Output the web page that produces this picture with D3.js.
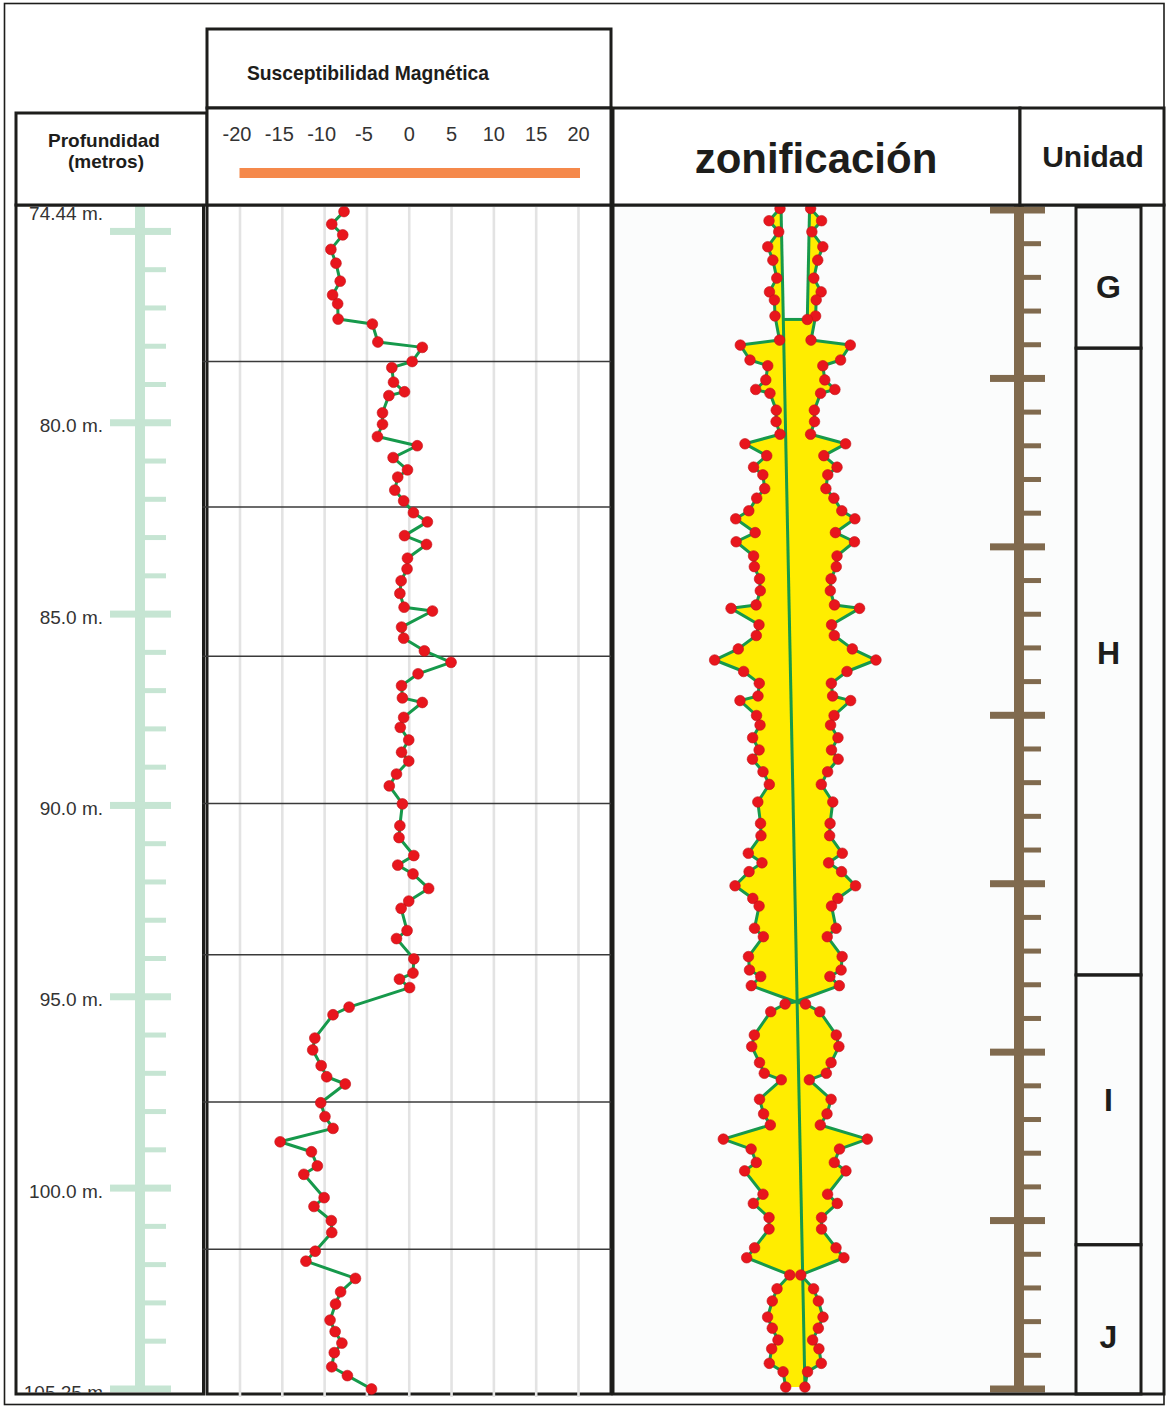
<!DOCTYPE html>
<html>
<head>
<meta charset="utf-8">
<script src="https://cdn.jsdelivr.net/npm/d3@7"></script>
<style>
  html, body { margin: 0; padding: 0; background: #fff; }
  svg { display: block; font-family: "Liberation Sans", Arial, Helvetica, sans-serif; }
</style>
</head>
<body>
<svg id="chart" width="1167" height="1409"></svg>
<script>
// ---- magnetic susceptibility log ----
const suscDepth = [
  74.48, 74.81, 75.09, 75.47, 75.83, 76.30, 76.66, 76.89, 77.29, 77.42,
  77.89, 78.03, 78.40, 78.56, 78.94, 79.19, 79.29, 79.74, 80.04, 80.36,
  80.60, 80.91, 81.23, 81.42, 81.76, 82.04, 82.35, 82.59, 82.95, 83.18,
  83.54, 83.82, 84.13, 84.46, 84.82, 84.92, 85.34, 85.63, 85.96, 86.26,
  86.56, 86.87, 87.19, 87.31, 87.70, 87.96, 88.29, 88.61, 88.84, 89.18,
  89.49, 89.96, 90.53, 90.84, 91.31, 91.56, 91.79, 92.17, 92.50, 92.69,
  93.27, 93.48, 94.01, 94.38, 94.54, 94.76, 95.27, 95.47, 96.08, 96.39,
  96.80, 97.09, 97.28, 97.77, 98.13, 98.44, 98.79, 99.05, 99.42, 99.64,
  100.25, 100.48, 100.85, 101.16, 101.65, 101.91, 102.36, 102.71, 103.03, 103.45,
  103.75, 104.05, 104.30, 104.67, 104.90, 105.25
];
const suscValue = [
  -7.65, -9.1, -7.8, -9.2, -8.6, -8.1, -9.0, -8.4, -8.35, -4.3,
  -3.65, 1.6, 0.4, -2.0, -1.8, -0.5, -2.35, -3.1, -3.1, -3.7,
  1.0, -1.85, -0.15, -1.3, -1.65, -0.6, 0.55, 2.2, -0.5, 2.1,
  -0.15, -0.2, -0.9, -1.05, -0.55, 2.8, -0.85, -0.6, 1.85, 5.0,
  1.1, -0.85, -0.75, 1.6, -0.6, -1.0, 0, -0.85, 0, -1.45,
  -2.3, -0.75, -1.05, -1.15, 0.6, -1.3, 0.5, 2.35, 0, -0.9,
  -0.2, -1.45, 0.6, 0.5, -1.1, 0.1, -7.05, -8.95, -11.1, -11.35,
  -10.35, -9.7, -7.5, -10.4, -9.9, -8.95, -15.2, -11.5, -10.8, -12.4,
  -10.0, -11.2, -9.15, -9.1, -11.05, -12.15, -6.3, -8.05, -8.65, -9.3,
  -8.7, -7.9, -8.8, -9.1, -7.25, -4.4
];
const suscTicks = [-20, -15, -10, -5, 0, 5, 10, 15, 20];
const sectionDepths = [78.4, 82.2, 86.1, 89.95, 93.9, 97.75, 101.6];

// ---- depth ruler ----
const depthTop = 74.44, depthBottom = 105.25;
const depthMajor = [75, 80, 85, 90, 95, 100, 105.25];
const depthMinor = [76, 77, 78, 79, 81, 82, 83, 84, 86, 87, 88, 89, 91, 92, 93, 94, 96, 97, 98, 99, 101, 102, 103, 104];
const depthLabelDepth = [74.44, 80, 85, 90, 95, 100, 105.25];
const depthLabelText = ["74.44 m.", "80.0 m.", "85.0 m.", "90.0 m.", "95.0 m.", "100.0 m.", "105.25 m"];

// ---- zonation profile (depth, half width) ----
const zoneDepth = [
  74.40, 74.72, 75.01, 75.40, 75.75, 76.22, 76.58, 76.79, 77.21,
  77.84, 77.97, 78.36, 78.51, 78.88, 79.13, 79.23, 79.67, 79.97, 80.30,
  80.55, 80.86, 81.16, 81.36, 81.72, 81.97, 82.30, 82.51, 82.87, 83.11,
  83.48, 83.76, 84.08, 84.39, 84.76, 84.85, 85.28, 85.56, 85.91, 86.20,
  86.50, 86.81, 87.14, 87.26, 87.65, 87.90, 88.23, 88.55, 88.79, 89.12,
  89.45, 89.91, 90.47, 90.79, 91.25, 91.50, 91.73, 92.10, 92.43, 92.63,
  93.21, 93.43, 93.95, 94.30, 94.47, 94.71, 95.13,
  95.19, 95.39, 96.00, 96.30, 96.72, 97.00, 97.17, 97.68, 98.06, 98.35,
  98.72, 98.98, 99.33, 99.55, 100.16, 100.40, 100.77, 101.07, 101.56, 101.82, 102.27,
  102.63, 102.95, 103.37, 103.66, 103.97, 104.20, 104.58, 104.80, 105.20
];
const zoneHalf = [
  1.8, 3.09, 1.95, 3.24, 2.64, 2.18, 3.04, 2.46, 2.39,
  1.85, 6.47, 5.33, 3.24, 3.47, 4.66, 2.98, 2.24, 2.26, 1.8,
  5.92, 3.36, 4.91, 3.82, 3.6, 4.54, 5.47, 7.01, 4.72, 6.96,
  4.91, 4.82, 4.21, 4.12, 4.61, 7.56, 4.27, 4.59, 6.71, 9.49,
  6.08, 4.24, 4.39, 6.51, 4.56, 4.15, 5.02, 4.26, 5.04, 3.8,
  3.06, 4.41, 4.09, 4.04, 5.53, 3.92, 5.44, 7.09, 5.0, 4.26,
  4.8, 3.76, 5.51, 5.39, 4.07, 5.18, 0,
  1.2, 2.89, 4.82, 5.13, 4.21, 3.65, 1.65, 4.21, 3.73, 2.94,
  8.47, 5.2, 4.59, 5.96, 3.8, 4.94, 3.09, 3.09, 4.79, 5.72, 0.65,
  2.15, 2.71, 3.26, 2.71, 2.04, 2.78, 3.06, 1.44, 1.13
];
// axis of the zonation column, slightly inclined; hollow core in unit G
const axisDepth = [74.36, 105.27];
const axisOffset = [-1.68, 1.14];
const hollowBottom = 77.30;

// ---- units ----
const unitNames = ["G", "H", "I", "J"];
const unitTop = [74.36, 78.05, 94.43, 101.48];
const unitBottom = [78.05, 94.43, 101.48, 105.38];
const unitLabelDepth = [76.45, 86.02, 97.70, 103.89];
const rulerDivisions = 35;

// ---- layout ----
const INK = "#1d1d1b", GREEN = "#16994b", RED = "#e8161d", YELLOW = "#ffed00";
const RULER_GREEN = "#c6e5d3", RULER_BROWN = "#806a4e", ORANGE = "#f5894b";
const PANEL_BG = "#fbfcfc";
const bodyTop = 205, bodyBottom = 1394;
const depthCol = { x0: 16, x1: 203.5 };
const suscCol = { x0: 207, x1: 611 };
const rightCol = { x0: 613, x1: 1164 };
const unitBox = { x0: 1076, x1: 1141 };

const svg = d3.select("#chart");
const y = d3.scaleLinear().domain([depthTop, depthBottom]).range([210, 1389]);
const xs = d3.scaleLinear().domain([-20, 20]).range([239.5, 578]);
const zx = d3.scaleLinear().domain([-10, 10]).range([710.3, 880.3]);
const axisAt = d3.scaleLinear().domain(axisDepth).range(axisOffset);

// outer frame
svg.append("rect").attr("x", 4.5).attr("y", 3.5).attr("width", 1159.5).attr("height", 1401)
  .attr("fill", "#fff").attr("stroke", INK).attr("stroke-width", 1.6);

// right-hand body background
svg.append("rect").attr("x", rightCol.x0).attr("y", bodyTop)
  .attr("width", rightCol.x1 - rightCol.x0).attr("height", bodyBottom - bodyTop)
  .attr("fill", PANEL_BG);

// ---------- depth ruler ----------
svg.append("clipPath").attr("id", "depthClip").append("rect")
  .attr("x", depthCol.x0).attr("y", bodyTop).attr("width", depthCol.x1 - depthCol.x0)
  .attr("height", bodyBottom - bodyTop - 1.5);
const dg = svg.append("g").attr("clip-path", "url(#depthClip)");
dg.append("rect").attr("x", 135).attr("width", 10).attr("y", bodyTop)
  .attr("height", y(depthBottom) - bodyTop).attr("fill", RULER_GREEN);
dg.selectAll("rect.major").data(depthMajor).join("rect").attr("class", "major")
  .attr("x", 110).attr("width", 61).attr("y", d => y(d) - 3.5).attr("height", 7)
  .attr("fill", RULER_GREEN);
dg.selectAll("rect.minor").data(depthMinor).join("rect").attr("class", "minor")
  .attr("x", 145).attr("width", 21).attr("y", d => y(d) - 2.5).attr("height", 5)
  .attr("fill", RULER_GREEN);
dg.selectAll("text").data(depthLabelDepth).join("text")
  .attr("x", 103).attr("y", d => y(d) + 3).attr("dominant-baseline", "central")
  .attr("text-anchor", "end").attr("font-size", 19).attr("fill", "#333")
  .text((d, i) => depthLabelText[i]);

// ---------- susceptibility panel ----------
svg.append("rect").attr("x", suscCol.x0).attr("y", bodyTop)
  .attr("width", suscCol.x1 - suscCol.x0).attr("height", bodyBottom - bodyTop)
  .attr("fill", "#fff").attr("stroke", INK).attr("stroke-width", 3);
svg.append("rect").attr("x", depthCol.x0).attr("y", bodyTop)
  .attr("width", depthCol.x1 - depthCol.x0).attr("height", bodyBottom - bodyTop)
  .attr("fill", "none").attr("stroke", INK).attr("stroke-width", 3);

const grid = svg.append("g").attr("transform", `translate(0,${bodyTop + 2})`)
  .call(d3.axisBottom(xs).tickValues(suscTicks).tickSize(bodyBottom - bodyTop + 1).tickFormat(""));
grid.select(".domain").remove();
grid.selectAll("line").attr("stroke", "#e3e3e3").attr("stroke-width", 2.6);

svg.selectAll("line.section").data(sectionDepths).join("line").attr("class", "section")
  .attr("x1", depthCol.x1 - 1).attr("x2", suscCol.x1)
  .attr("y1", d => y(d)).attr("y2", d => y(d))
  .attr("stroke", "#3a3a3a").attr("stroke-width", 1.5);

const susc = suscDepth.map((d, i) => ({ d, v: suscValue[i] }));
svg.append("path").datum(susc)
  .attr("d", d3.line().x(p => xs(p.v)).y(p => y(p.d)))
  .attr("fill", "none").attr("stroke", GREEN).attr("stroke-width", 3)
  .attr("stroke-linejoin", "round");
svg.selectAll("circle.susc").data(susc).join("circle").attr("class", "susc")
  .attr("cx", p => xs(p.v)).attr("cy", p => y(p.d)).attr("r", 5.4)
  .attr("fill", RED).attr("stroke", "#c3121a").attr("stroke-width", 0.6);

// ---------- zonation column ----------
const zone = zoneDepth.map((d, i) => ({ d, h: zoneHalf[i] }));
svg.append("path").datum(zone)
  .attr("d", d3.area().x0(p => zx(-p.h)).x1(p => zx(p.h)).y(p => y(p.d)))
  .attr("fill", YELLOW);
const hollow = [axisDepth[0], hollowBottom];
svg.append("path").datum(hollow)
  .attr("d", d3.area().x0(d => zx(axisAt(d))).x1(d => zx(-axisAt(d))).y(d => y(d)))
  .attr("fill", PANEL_BG);

const zg = svg.append("g").attr("fill", "none").attr("stroke", GREEN)
  .attr("stroke-width", 3).attr("stroke-linejoin", "round");
zg.append("path").datum(zone).attr("d", d3.line().x(p => zx(-p.h)).y(p => y(p.d)));
zg.append("path").datum(zone).attr("d", d3.line().x(p => zx(p.h)).y(p => y(p.d)));
zg.append("path").datum(axisDepth).attr("d", d3.line().x(d => zx(axisAt(d))).y(d => y(d)));
zg.append("path").datum(hollow).attr("d", d3.line().x(d => zx(-axisAt(d))).y(d => y(d)));
zg.append("line")
  .attr("x1", zx(axisAt(hollowBottom))).attr("x2", zx(-axisAt(hollowBottom)))
  .attr("y1", y(hollowBottom)).attr("y2", y(hollowBottom));

const dots = zone.filter(p => p.h > 0).flatMap(p => [{ x: -p.h, d: p.d }, { x: p.h, d: p.d }]);
dots.push({ x: -axisAt(hollowBottom), d: hollowBottom });
svg.selectAll("circle.zone").data(dots).join("circle").attr("class", "zone")
  .attr("cx", p => zx(p.x)).attr("cy", p => y(p.d)).attr("r", 5.3)
  .attr("fill", RED).attr("stroke", "#c3121a").attr("stroke-width", 0.6);

// ---------- brown ruler ----------
const rStep = (depthBottom - depthTop) / rulerDivisions;
const rTicks = d3.range(rulerDivisions + 1).map(i => ({ d: depthTop + i * rStep, major: i % 5 === 0 }));
svg.append("rect").attr("x", 1014).attr("width", 10).attr("y", bodyTop)
  .attr("height", y(depthBottom) + 3 - bodyTop).attr("fill", RULER_BROWN);
svg.selectAll("rect.rtick").data(rTicks).join("rect").attr("class", "rtick")
  .attr("x", t => t.major ? 990 : 1024).attr("width", t => t.major ? 55 : 17)
  .attr("y", t => y(t.d) - (t.major ? 3.5 : 2.5)).attr("height", t => t.major ? 7 : 5)
  .attr("fill", RULER_BROWN);

// ---------- units ----------
const units = unitNames.map((n, i) => ({ n, t: unitTop[i], b: unitBottom[i], l: unitLabelDepth[i] }));
svg.selectAll("rect.unit").data(units).join("rect").attr("class", "unit")
  .attr("x", unitBox.x0).attr("width", unitBox.x1 - unitBox.x0)
  .attr("y", u => y(u.t)).attr("height", u => y(u.b) - y(u.t))
  .attr("fill", "none").attr("stroke", INK).attr("stroke-width", 3);
svg.selectAll("text.unit").data(units).join("text").attr("class", "unit")
  .attr("x", (unitBox.x0 + unitBox.x1) / 2).attr("y", u => y(u.l))
  .attr("dominant-baseline", "central").attr("text-anchor", "middle")
  .attr("font-size", 32).attr("font-weight", "bold").attr("fill", INK)
  .text(u => u.n);

svg.append("rect").attr("x", rightCol.x0).attr("y", bodyTop)
  .attr("width", rightCol.x1 - rightCol.x0).attr("height", bodyBottom - bodyTop)
  .attr("fill", "none").attr("stroke", INK).attr("stroke-width", 3);

// ---------- header ----------
function box(x0, y0, x1, y1) {
  svg.append("rect").attr("x", x0).attr("y", y0).attr("width", x1 - x0).attr("height", y1 - y0)
    .attr("fill", "#fff").attr("stroke", INK).attr("stroke-width", 3);
}
box(16, 113, 207, bodyTop);
box(207, 29, 611, 108);
box(207, 108, 611, bodyTop);
box(613, 108, 1020, bodyTop);
box(1020, 108, 1164, bodyTop);

const head = svg.append("g").attr("fill", INK).attr("font-weight", "bold").attr("text-anchor", "middle");
head.append("text").attr("x", 368).attr("y", 80).attr("font-size", 19.3).text("Susceptibilidad Magnética");
head.append("text").attr("x", 104).attr("y", 147).attr("font-size", 19).text("Profundidad");
head.append("text").attr("x", 106).attr("y", 168).attr("font-size", 19).text("(metros)");
head.append("text").attr("x", 816).attr("y", 173).attr("font-size", 42).text("zonificación");
head.append("text").attr("x", 1093).attr("y", 167).attr("font-size", 30).text("Unidad");

const ax = svg.append("g").attr("transform", "translate(0,141)")
  .call(d3.axisTop(xs).tickValues(suscTicks).tickSize(0).tickPadding(0).tickFormat(d => String(d)));
ax.select(".domain").remove();
ax.selectAll("text").attr("font-size", 20).attr("fill", "#333")
  .attr("font-family", "'Liberation Sans', Arial, sans-serif")
  .attr("dx", d => d < 0 ? "-0.15em" : 0);

svg.append("rect").attr("x", xs(-20)).attr("width", xs(20) - xs(-20) + 2)
  .attr("y", 168).attr("height", 10).attr("fill", ORANGE);
</script>
</body>
</html>
